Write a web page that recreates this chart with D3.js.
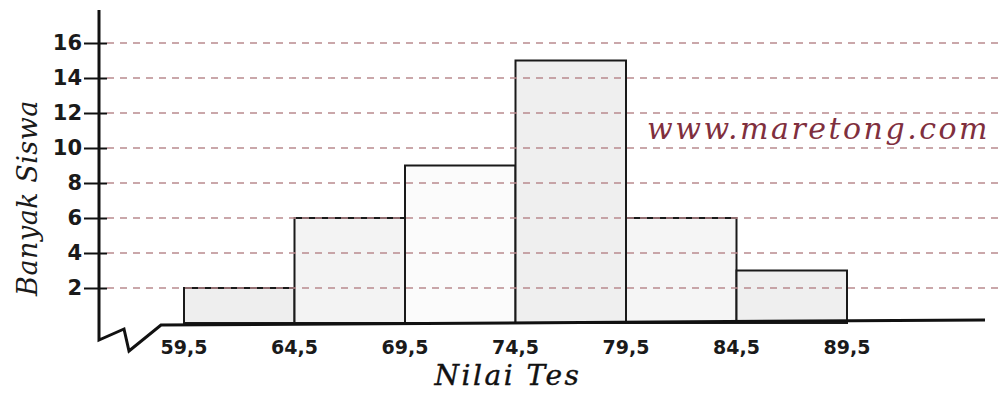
<!DOCTYPE html>
<html>
<head>
<meta charset="utf-8">
<script src="https://cdn.jsdelivr.net/npm/d3@7"></script>
<style>
  html, body { margin: 0; padding: 0; background: #fff; }
  svg { display: block; }
</style>
</head>
<body>
<svg id="chart" width="1001" height="406"></svg>
<script>
// class boundaries (tepi kelas) and frequencies
const edges = [59.5, 64.5, 69.5, 74.5, 79.5, 84.5, 89.5];
const edgeLabels = ["59,5", "64,5", "69,5", "74,5", "79,5", "84,5", "89,5"];
const freqs = [2, 6, 9, 15, 6, 3];
const yTicks = [2, 4, 6, 8, 10, 12, 14, 16];
const barFills = ["#eeeeee", "#f3f3f3", "#fbfbfb", "#efefef", "#f5f5f5", "#efefef"];

const W = 1001, H = 406;
const svg = d3.select("#chart");

const x = d3.scaleLinear().domain([59.5, 89.5]).range([184, 847]);
const y = d3.scaleLinear().domain([0, 16]).range([323, 43]);
const axisX = 99;

const bins = freqs.map((f, i) => ({ x0: edges[i], x1: edges[i + 1], f, fill: barFills[i] }));

// bars
svg.append("g").selectAll("rect").data(bins).join("rect")
    .attr("x", d => x(d.x0)).attr("y", d => y(d.f))
    .attr("width", d => x(d.x1) - x(d.x0)).attr("height", d => y(0) - y(d.f))
    .attr("fill", d => d.fill)
    .attr("stroke", "#1a1a1a").attr("stroke-width", 2);

// dashed grid lines (drawn over the bars, as in the print)
svg.append("g").selectAll("line").data(yTicks).join("line")
    .attr("x1", axisX + 8).attr("x2", W)
    .attr("y1", d => y(d)).attr("y2", d => y(d))
    .attr("stroke", "#b98a8f").attr("stroke-width", 1.4)
    .attr("stroke-dasharray", "7,6");

// y axis with ticks crossing the line
const yAxis = svg.append("g").attr("transform", `translate(${axisX},0)`)
    .call(d3.axisLeft(y).tickValues(yTicks).tickSize(15).tickPadding(2))
    .call(g => g.select(".domain").remove());
yAxis.selectAll(".tick line").attr("x1", 8).attr("x2", -15)
    .attr("stroke", "#111").attr("stroke-width", 2);
yAxis.selectAll(".tick text")
    .attr("font-family", "'DejaVu Sans', sans-serif").attr("font-weight", "bold")
    .attr("font-size", 21).attr("fill", "#1a1a1a");

// axis lines with the break zigzag
svg.append("path")
    .attr("d", `M${axisX},10 L${axisX},340 L124,329 L129,351 L161,325 L985,320`)
    .attr("fill", "none").attr("stroke", "#111").attr("stroke-width", 3)
    .attr("stroke-linejoin", "miter");

// x tick labels at class boundaries
svg.append("g").selectAll("text").data(edges).join("text")
    .attr("x", d => x(d)).attr("y", 354)
    .attr("text-anchor", "middle")
    .attr("font-family", "'DejaVu Sans', sans-serif").attr("font-weight", "bold")
    .attr("font-size", 19).attr("fill", "#1a1a1a")
    .text((d, i) => edgeLabels[i]);

// axis titles
svg.append("text")
    .attr("transform", `translate(37,198) rotate(-90)`)
    .attr("text-anchor", "middle")
    .attr("font-family", "'DejaVu Serif', serif").attr("font-style", "italic")
    .attr("font-size", 27).attr("fill", "#1a1a1a")
    .attr("letter-spacing", 0.5)
    .text("Banyak Siswa");
svg.append("text")
    .attr("x", 508).attr("y", 385)
    .attr("text-anchor", "middle")
    .attr("font-family", "'DejaVu Serif', serif").attr("font-style", "italic")
    .attr("font-size", 28).attr("fill", "#111")
    .attr("letter-spacing", 2.5)
    .attr("stroke", "#111").attr("stroke-width", 0.4)
    .text("Nilai Tes");

// watermark
svg.append("text")
    .attr("x", 990).attr("y", 139)
    .attr("text-anchor", "end")
    .attr("font-family", "'DejaVu Serif', serif").attr("font-style", "italic")
    .attr("font-size", 30).attr("fill", "#7f2f3e")
    .attr("letter-spacing", 2.5)
    .text("www.maretong.com");
</script>
</body>
</html>
